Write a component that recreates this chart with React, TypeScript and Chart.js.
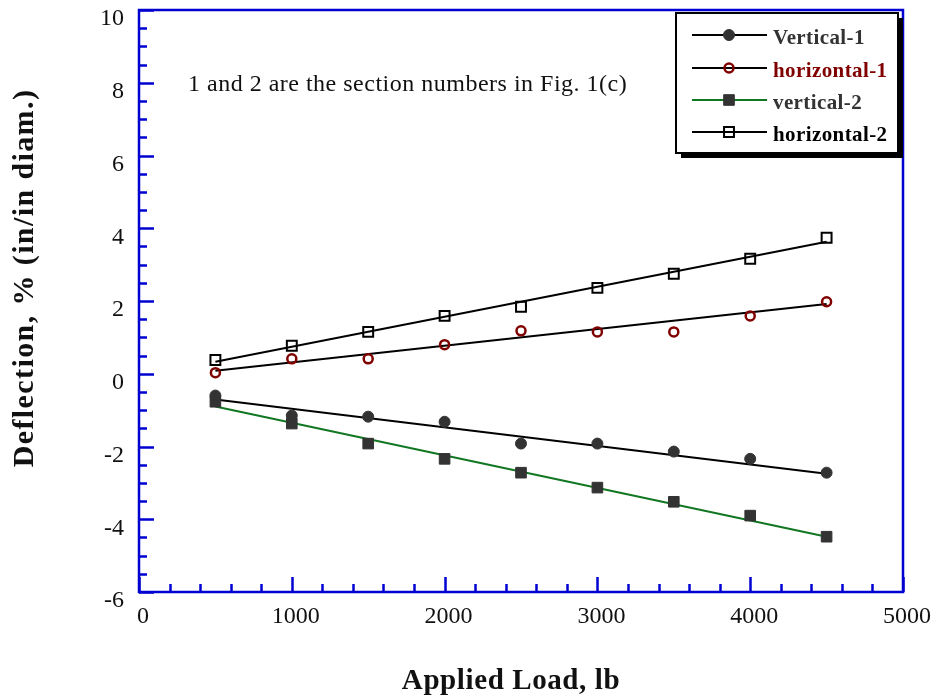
import { useEffect, useRef } from "react";
import { Chart, registerables } from "chart.js";

Chart.register(...registerables);

// ---- data ----
const loads = [500, 1000, 1500, 2000, 2500, 3000, 3500, 4000, 4500];
const vertical1 = [-0.6, -1.15, -1.18, -1.32, -1.92, -1.92, -2.14, -2.34, -2.72];
const horizontal1 = [0.03, 0.41, 0.41, 0.8, 1.18, 1.15, 1.15, 1.59, 1.98];
const vertical2 = [-0.77, -1.37, -1.92, -2.34, -2.72, -3.13, -3.52, -3.9, -4.48];
const horizontal2 = [0.38, 0.77, 1.15, 1.59, 1.84, 2.36, 2.75, 3.16, 3.74];

const fitLoads = [500, 4500];
const vertical1Fit = [-0.71, -2.75];
const horizontal1Fit = [0.08, 1.92];
const vertical2Fit = [-0.9, -4.48];
const horizontal2Fit = [0.33, 3.63];

const xTicks = [0, 1000, 2000, 3000, 4000, 5000];
const yTicks = [-6, -4, -2, 0, 2, 4, 6, 8, 10];

const seriesNames = ["Vertical-1", "horizontal-1", "vertical-2", "horizontal-2"];
const xTitle = "Applied Load, lb";
const yTitle = "Deflection, % (in/in diam.)";
const note = "1 and 2 are the section numbers in Fig. 1(c)";

const SERIF = "'Liberation Serif', 'Times New Roman', serif";
const BLUE = "#0000d0";
const DARK = "#333333";
const RED = "#800000";
const GREEN = "#117722";

const toPts = (xs: number[], ys: number[]) => xs.map((x, i) => ({ x, y: ys[i] }));

function drawText(
  ctx: CanvasRenderingContext2D,
  text: string,
  x: number,
  y: number,
  font: string,
  color: string,
  spacing: number,
  align: CanvasTextAlign = "left",
  rotate = 0
) {
  ctx.save();
  ctx.translate(x, y);
  if (rotate) ctx.rotate(rotate);
  ctx.font = font;
  ctx.fillStyle = color;
  (ctx as any).letterSpacing = spacing + "px";
  ctx.textAlign = align;
  ctx.textBaseline = "alphabetic";
  ctx.fillText(text, 0, 0);
  ctx.restore();
}

const framePlugin = {
  id: "frame",
  afterDatasetsDraw(chart: any) {
    const { ctx, chartArea: a, scales } = chart;
    const xs = scales.x;
    const ys = scales.y;
    ctx.save();
    ctx.strokeStyle = BLUE;
    ctx.lineWidth = 2.5;
    ctx.lineCap = "butt";
    for (let v = -6; v <= 10.001; v += 0.5) {
      const py = Math.round(ys.getPixelForValue(v)) + 0.5;
      const major = Math.abs(v % 2) < 1e-6;
      const len = major ? 15 : 8;
      ctx.beginPath();
      ctx.moveTo(a.left, py);
      ctx.lineTo(a.left + len, py);
      ctx.stroke();
    }
    for (let v = 0; v <= 5000; v += 200) {
      const px = Math.round(xs.getPixelForValue(v)) + 0.5;
      const major = v % 1000 === 0;
      const len = major ? 15 : 8;
      ctx.beginPath();
      ctx.moveTo(px, a.bottom);
      ctx.lineTo(px, a.bottom - len);
      ctx.stroke();
    }
    ctx.strokeRect(a.left, a.top, a.right - a.left, a.bottom - a.top);
    ctx.restore();
  },
  afterDraw(chart: any) {
    const { ctx } = chart;
    drawText(ctx, note, 188, 91, `24px ${SERIF}`, "#111", 0.5);
    drawText(ctx, xTitle, 511, 689, `bold 29px ${SERIF}`, "#111", 0.6, "center");
    drawText(ctx, yTitle, 33, 278, `bold 30px ${SERIF}`, "#111", 1.4, "center", -Math.PI / 2);

    const bx = 676, by = 13, bw = 222, bh = 140;
    ctx.save();
    ctx.fillStyle = "#000";
    ctx.fillRect(bx + 5, by + 5, bw, bh);
    ctx.fillStyle = "#fff";
    ctx.fillRect(bx, by, bw, bh);
    ctx.strokeStyle = "#000";
    ctx.lineWidth = 2;
    ctx.strokeRect(bx, by, bw, bh);
    ctx.restore();

    const rows = [35, 68, 100, 132];
    const lineColors = ["#000", "#000", GREEN, "#000"];
    const textColors = [DARK, RED, DARK, "#000"];
    rows.forEach((ry, i) => {
      ctx.save();
      ctx.strokeStyle = lineColors[i];
      ctx.lineWidth = 2;
      ctx.beginPath();
      ctx.moveTo(692, ry);
      ctx.lineTo(767, ry);
      ctx.stroke();
      const ds = chart.data.datasets[i];
      ctx.fillStyle = ds.pointBackgroundColor;
      ctx.strokeStyle = ds.pointBorderColor;
      ctx.lineWidth = ds.pointBorderWidth;
      const r = ds.pointRadius;
      if (ds.pointStyle === "circle") {
        ctx.beginPath();
        ctx.arc(729, ry, r, 0, Math.PI * 2);
        ctx.fill();
        ctx.stroke();
      } else {
        const s = Math.SQRT1_2 * r;
        ctx.beginPath();
        ctx.rect(729 - s, ry - s, 2 * s, 2 * s);
        ctx.fill();
        ctx.stroke();
      }
      ctx.restore();
      drawText(ctx, seriesNames[i], 773, ry + 9, `bold 21px ${SERIF}`, textColors[i], 0.4);
    });
  },
};

export default function App() {
  const ref = useRef<HTMLCanvasElement | null>(null);

  useEffect(() => {
    if (!ref.current) return;
    const pointSet = (
      label: string,
      ys: number[],
      style: string,
      r: number,
      bg: string,
      border: string,
      bw: number
    ) => ({
      type: "scatter" as const,
      label,
      data: toPts(loads, ys),
      showLine: false,
      pointStyle: style,
      pointRadius: r,
      pointHoverRadius: r,
      pointBackgroundColor: bg,
      pointBorderColor: border,
      pointBorderWidth: bw,
      order: 1,
    });
    const fitSet = (label: string, ys: number[], color: string) => ({
      type: "line" as const,
      label,
      data: toPts(fitLoads, ys),
      borderColor: color,
      borderWidth: 2,
      pointRadius: 0,
      fill: false,
      order: 2,
    });

    const chart = new Chart(ref.current, {
      type: "scatter",
      data: {
        datasets: [
          pointSet(seriesNames[0], vertical1, "circle", 5.5, DARK, DARK, 1),
          pointSet(seriesNames[1], horizontal1, "circle", 4.5, "rgba(255,255,255,0)", RED, 2.5),
          pointSet(seriesNames[2], vertical2, "rect", 7.5, DARK, DARK, 1),
          pointSet(seriesNames[3], horizontal2, "rect", 7, "rgba(255,255,255,0)", "#000", 2),
          fitSet(seriesNames[0] + " fit", vertical1Fit, "#000"),
          fitSet(seriesNames[1] + " fit", horizontal1Fit, "#000"),
          fitSet(seriesNames[2] + " fit", vertical2Fit, GREEN),
          fitSet(seriesNames[3] + " fit", horizontal2Fit, "#000"),
        ] as any,
      },
      options: {
        animation: false,
        responsive: true,
        maintainAspectRatio: false,
        layout: { padding: { left: 0, top: 10, right: 34, bottom: 0 } },
        plugins: {
          legend: { display: false },
          tooltip: { enabled: false },
        },
        scales: {
          x: {
            type: "linear",
            min: 0,
            max: 5000,
            afterBuildTicks: (s: any) => {
              s.ticks = xTicks.map((v) => ({ value: v }));
            },
            afterFit: (s: any) => {
              s.height = 108;
              s.paddingLeft = 0;
              s.paddingRight = 0;
            },
            grid: { display: false, drawTicks: false },
            border: { display: false },
            ticks: {
              color: "#111",
              font: { family: SERIF, size: 24 },
              padding: 10,
              labelOffset: 4,
              maxRotation: 0,
              autoSkip: false,
              callback: (v: any) => String(v),
            },
          },
          y: {
            type: "linear",
            min: -6,
            max: 10,
            afterBuildTicks: (s: any) => {
              s.ticks = yTicks.map((v) => ({ value: v }));
            },
            afterFit: (s: any) => {
              s.width = 139;
              s.paddingTop = 0;
              s.paddingBottom = 0;
            },
            grid: { display: false, drawTicks: false },
            border: { display: false },
            ticks: {
              color: "#111",
              font: { family: SERIF, size: 24 },
              padding: 15,
              labelOffset: 9,
              autoSkip: false,
              callback: (v: any) => String(v),
            },
          },
        },
      },
      plugins: [framePlugin],
    });
    return () => chart.destroy();
  }, []);

  return (
    <div style={{ position: "absolute", left: 0, top: 0, width: 937, height: 700, background: "#fff" }}>
      <canvas ref={ref} />
    </div>
  );
}
